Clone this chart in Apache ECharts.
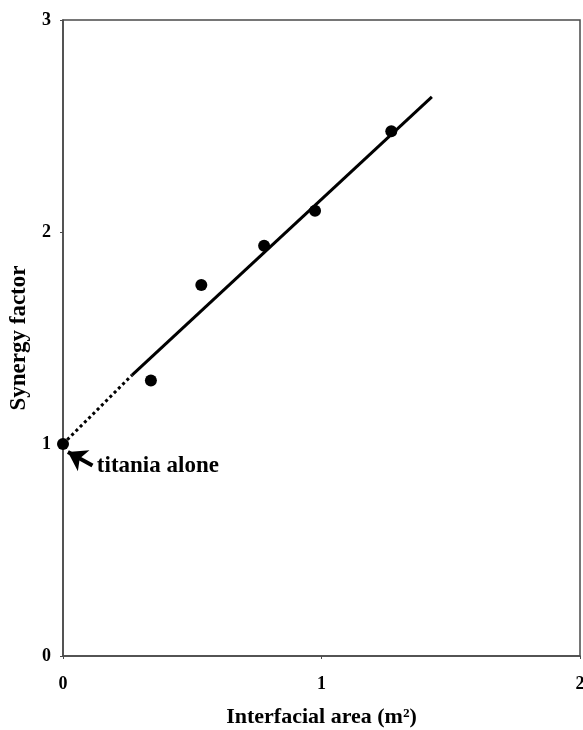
<!DOCTYPE html>
<html>
<head>
<meta charset="utf-8">
<script src="https://cdn.jsdelivr.net/npm/echarts@6/dist/echarts.min.js"></script>
<style>
  html, body { margin: 0; padding: 0; background: #fff; }
  #chart { width: 583px; height: 730px; }
</style>
</head>
<body>
<div id="chart"></div>
<script>
// Measured synergy factor vs. interfacial area
const areaValues = [0, 0.34, 0.535, 0.778, 0.975, 1.27];
const synergyValues = [1.0, 1.30, 1.75, 1.935, 2.10, 2.475];

// Linear fit: dotted extrapolation to zero area, solid over the data range
const fitDotted = [[0, 1.0], [0.267, 1.325]];
const fitSolid = [[0.267, 1.325], [1.427, 2.637]];

// Annotation pointing at the titania-only point
const arrowFrom = [0.114, 0.898];
const arrowTo = [0.019, 0.962];
const noteAt = [0.131, 0.897];
const noteText = 'titania alone';

const xTicks = [0, 1, 2];
const yTicks = [0, 1, 2, 3];

const serif = '"Liberation Serif", "Times New Roman", serif';
const axisColor = '#4a4a4a';

const chart = echarts.init(document.getElementById('chart'));
chart.setOption({
  animation: false,
  grid: {
    left: 63, right: 3, top: 20, bottom: 74,
    outerBoundsMode: 'none',
    containLabel: false,
    show: true, borderColor: axisColor, borderWidth: 1.5
  },
  xAxis: {
    type: 'value',
    min: xTicks[0], max: xTicks[xTicks.length - 1], interval: 1,
    name: 'Interfacial area (m²)',
    nameLocation: 'middle', nameGap: 50,
    nameTextStyle: { fontFamily: serif, fontWeight: 'bold', fontSize: 22, color: '#000' },
    axisLine: { lineStyle: { color: axisColor, width: 1.5 } },
    axisTick: { show: true, length: 3, lineStyle: { color: axisColor } },
    axisLabel: { fontFamily: serif, fontWeight: 'bold', fontSize: 18, color: '#000', margin: 19 },
    splitLine: { show: false }
  },
  yAxis: {
    type: 'value',
    min: yTicks[0], max: yTicks[yTicks.length - 1], interval: 1,
    name: 'Synergy factor',
    nameLocation: 'middle', nameGap: 32,
    nameTextStyle: { fontFamily: serif, fontWeight: 'bold', fontSize: 23, color: '#000' },
    axisLine: { lineStyle: { color: axisColor, width: 1.5 } },
    axisTick: { show: true, length: 3, lineStyle: { color: axisColor } },
    axisLabel: { fontFamily: serif, fontWeight: 'bold', fontSize: 18, color: '#000', margin: 12 },
    splitLine: { show: false }
  },
  series: [
    {
      type: 'line',
      data: fitDotted,
      symbol: 'none',
      lineStyle: { color: '#000', width: 3, type: [3, 3] },
      z: 2
    },
    {
      type: 'line',
      data: fitSolid,
      symbol: 'none',
      lineStyle: { color: '#000', width: 3 },
      z: 2
    },
    {
      type: 'scatter',
      data: areaValues.map((x, i) => [x, synergyValues[i]]),
      symbol: 'circle',
      symbolSize: 12,
      itemStyle: { color: '#000', opacity: 1 },
      z: 3
    },
    {
      type: 'scatter',
      data: [noteAt],
      symbolSize: 0,
      silent: true,
      itemStyle: { opacity: 1 },
      label: {
        show: true, position: 'right', distance: 0,
        formatter: noteText,
        fontFamily: serif, fontWeight: 'bold', fontSize: 23, color: '#000'
      },
      markLine: {
        silent: true,
        symbol: ['none', 'arrow'],
        symbolSize: [18, 18],
        label: { show: false },
        lineStyle: { color: '#000', width: 4, type: 'solid', opacity: 1 },
        data: [[{ coord: arrowFrom }, { coord: arrowTo }]]
      },
      z: 4
    }
  ]
});
</script>
</body>
</html>
